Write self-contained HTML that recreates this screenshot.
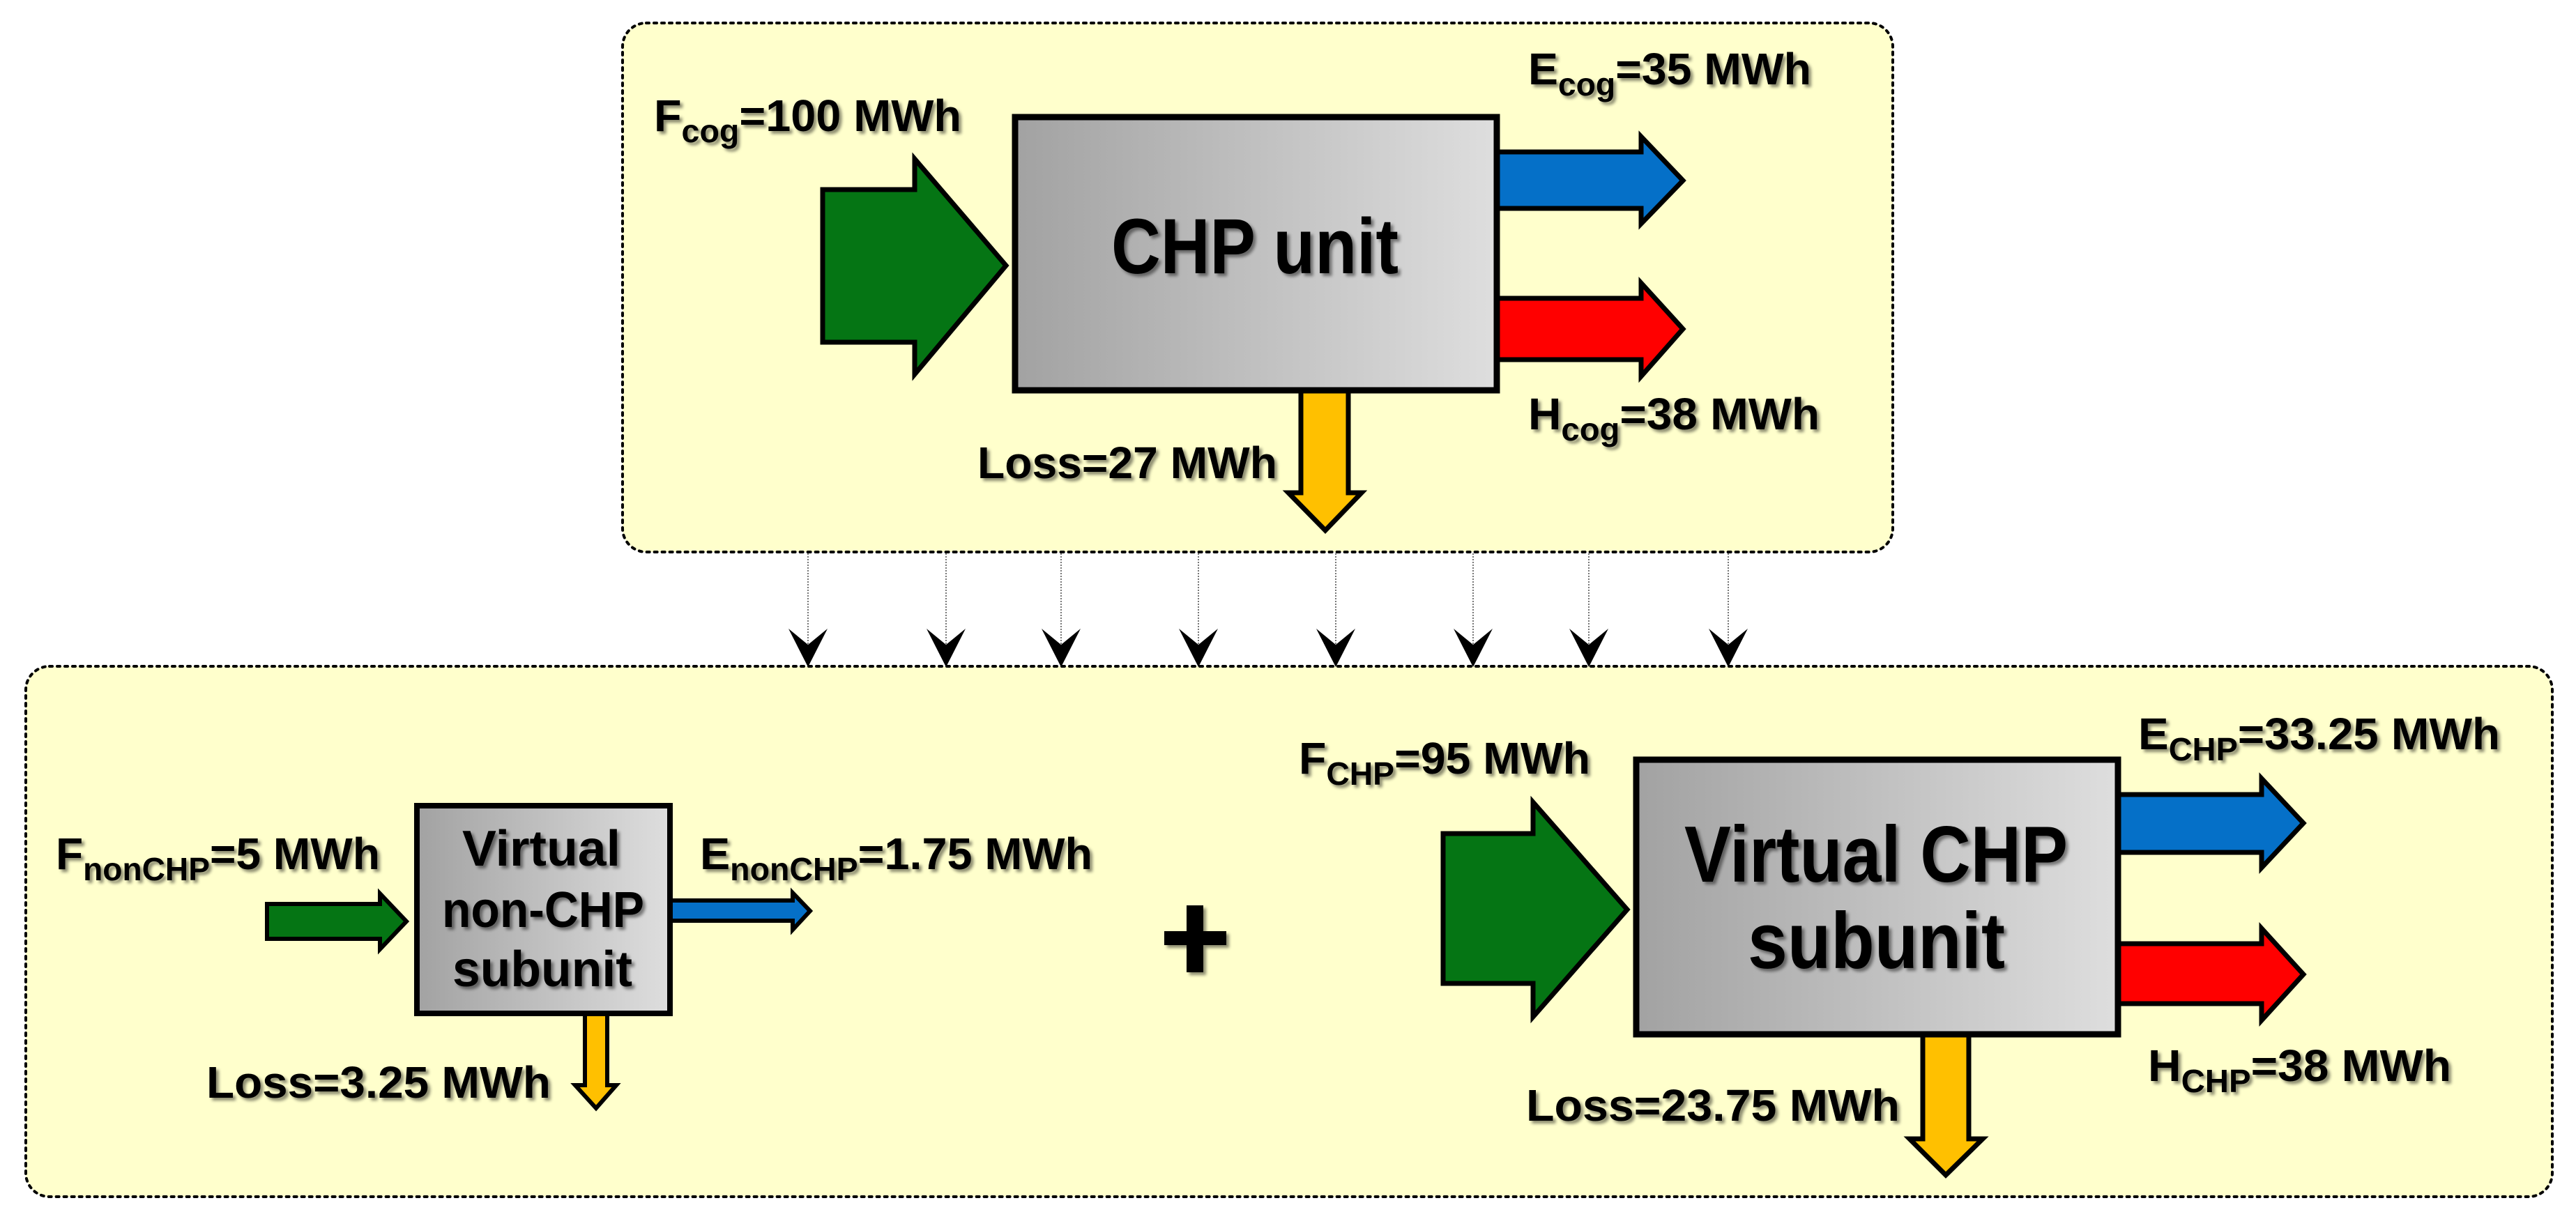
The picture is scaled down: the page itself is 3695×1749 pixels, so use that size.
<!DOCTYPE html>
<html><head><meta charset="utf-8"><style>
html,body{margin:0;padding:0;background:#fff;}
svg{display:block;}
text{font-family:"Liberation Sans",sans-serif;font-weight:bold;fill:#000;}
</style></head><body>
<svg width="3695" height="1749" viewBox="0 0 3695 1749" xmlns="http://www.w3.org/2000/svg">
<defs>
<linearGradient id="g" x1="0" x2="1" y1="0" y2="0"><stop offset="0" stop-color="#a2a2a2"/><stop offset="1" stop-color="#dedede"/></linearGradient>
<filter id="sh" x="-10%" y="-30%" width="120%" height="160%"><feDropShadow dx="4" dy="4" stdDeviation="2" flood-color="#000" flood-opacity="0.45"/></filter>
</defs>
<rect x="893" y="33" width="1822" height="759" rx="34" fill="#ffffcc" stroke="#000" stroke-width="4" stroke-dasharray="4 7" stroke-linecap="round"/>
<rect x="37" y="956" width="3624" height="761" rx="34" fill="#ffffcc" stroke="#000" stroke-width="4" stroke-dasharray="4 7" stroke-linecap="round"/>
<g stroke="#777" stroke-width="2" stroke-dasharray="2 2">
<line x1="1159" y1="794" x2="1159" y2="930"/><line x1="1357" y1="794" x2="1357" y2="930"/><line x1="1522" y1="794" x2="1522" y2="930"/><line x1="1719" y1="794" x2="1719" y2="930"/><line x1="1916" y1="794" x2="1916" y2="930"/><line x1="2113" y1="794" x2="2113" y2="930"/><line x1="2279" y1="794" x2="2279" y2="930"/><line x1="2479" y1="794" x2="2479" y2="930"/>
</g>
<g fill="#000">
<path d="M1131 902 L1159 925 L1187 902 L1159 957Z"/><path d="M1329 902 L1357 925 L1385 902 L1357 957Z"/><path d="M1494 902 L1522 925 L1550 902 L1522 957Z"/><path d="M1691 902 L1719 925 L1747 902 L1719 957Z"/><path d="M1888 902 L1916 925 L1944 902 L1916 957Z"/><path d="M2085 902 L2113 925 L2141 902 L2113 957Z"/><path d="M2251 902 L2279 925 L2307 902 L2279 957Z"/><path d="M2451 902 L2479 925 L2507 902 L2479 957Z"/>
</g>
<g stroke="#000" stroke-width="7" stroke-linejoin="miter">
<path d="M1180 272 L1312 272 L1312 228 L1443 381 L1312 537 L1312 491 L1180 491Z" fill="#057514"/>
<path d="M2148 218 L2354 218 L2354 196 L2414 259 L2354 321 L2354 299 L2148 299Z" fill="#0570c8"/>
<path d="M2148 428 L2354 428 L2354 406 L2414 472 L2354 540 L2354 516 L2148 516Z" fill="#ff0000"/>
<path d="M1866 560 L1866 707 L1848 707 L1901 761 L1953 707 L1934 707 L1934 560Z" fill="#ffc000"/>
<rect x="1456" y="168" width="691" height="392" fill="url(#g)" stroke-width="9"/>
</g>
<g filter="url(#sh)">
<text x="1594" y="392" font-size="112" textLength="412" lengthAdjust="spacingAndGlyphs">CHP unit</text>
<text x="938" y="188" font-size="64" textLength="441" lengthAdjust="spacingAndGlyphs">F<tspan font-size="46" dy="16">cog</tspan><tspan dy="-16">=100 MWh</tspan></text>
<text x="2192" y="121" font-size="64" textLength="406" lengthAdjust="spacingAndGlyphs">E<tspan font-size="46" dy="16">cog</tspan><tspan dy="-16">=35 MWh</tspan></text>
<text x="2192" y="616" font-size="64" textLength="418" lengthAdjust="spacingAndGlyphs">H<tspan font-size="46" dy="16">cog</tspan><tspan dy="-16">=38 MWh</tspan></text>
<text x="1402" y="686" font-size="64" textLength="430" lengthAdjust="spacingAndGlyphs">Loss=27 MWh</text>
</g>
<g stroke="#000" stroke-width="6">
<path d="M383 1297 L545 1297 L545 1282 L583 1322 L545 1362 L545 1347 L383 1347Z" fill="#057514"/>
<path d="M962 1292 L1137 1292 L1137 1281 L1162 1307 L1137 1334 L1137 1321 L962 1321Z" fill="#0570c8"/>
<path d="M839 1454 L839 1557 L825 1557 L855 1590 L884 1557 L871 1557 L871 1454Z" fill="#ffc000"/>
<rect x="598" y="1156" width="363" height="298" fill="url(#g)" stroke-width="8"/>
</g>
<g filter="url(#sh)">
<text x="663" y="1242" font-size="72" textLength="227" lengthAdjust="spacingAndGlyphs">Virtual</text>
<text x="634" y="1330" font-size="72" textLength="290" lengthAdjust="spacingAndGlyphs">non-CHP</text>
<text x="649" y="1415" font-size="72" textLength="258" lengthAdjust="spacingAndGlyphs">subunit</text>
<text x="80" y="1247" font-size="64" textLength="465" lengthAdjust="spacingAndGlyphs">F<tspan font-size="46" dy="16">nonCHP</tspan><tspan dy="-16">=5 MWh</tspan></text>
<text x="1004" y="1247" font-size="64" textLength="563" lengthAdjust="spacingAndGlyphs">E<tspan font-size="46" dy="16">nonCHP</tspan><tspan dy="-16">=1.75 MWh</tspan></text>
<text x="296" y="1575" font-size="64" textLength="494" lengthAdjust="spacingAndGlyphs">Loss=3.25 MWh</text>
<rect x="1702" y="1299" width="24" height="96" fill="#000"/>
<rect x="1670" y="1336" width="89" height="20" fill="#000"/>
</g>
<g stroke="#000" stroke-width="7">
<path d="M2070 1196 L2199 1196 L2199 1151 L2334 1305 L2199 1459 L2199 1411 L2070 1411Z" fill="#057514"/>
<path d="M3039 1140 L3244 1140 L3244 1117 L3304 1181 L3244 1245 L3244 1223 L3039 1223Z" fill="#0570c8"/>
<path d="M3039 1354 L3244 1354 L3244 1332 L3304 1398 L3244 1464 L3244 1440 L3039 1440Z" fill="#ff0000"/>
<path d="M2758 1485 L2758 1634 L2739 1634 L2791 1686 L2844 1634 L2824 1634 L2824 1485Z" fill="#ffc000"/>
<rect x="2347" y="1090" width="691" height="394" fill="url(#g)" stroke-width="9"/>
</g>
<g filter="url(#sh)">
<text x="2416" y="1265" font-size="114" textLength="550" lengthAdjust="spacingAndGlyphs">Virtual CHP</text>
<text x="2507" y="1389" font-size="114" textLength="369" lengthAdjust="spacingAndGlyphs">subunit</text>
<text x="1863" y="1110" font-size="64" textLength="418" lengthAdjust="spacingAndGlyphs">F<tspan font-size="46" dy="16">CHP</tspan><tspan dy="-16">=95 MWh</tspan></text>
<text x="3067" y="1075" font-size="64" textLength="519" lengthAdjust="spacingAndGlyphs">E<tspan font-size="46" dy="16">CHP</tspan><tspan dy="-16">=33.25 MWh</tspan></text>
<text x="3081" y="1551" font-size="64" textLength="435" lengthAdjust="spacingAndGlyphs">H<tspan font-size="46" dy="16">CHP</tspan><tspan dy="-16">=38 MWh</tspan></text>
<text x="2189" y="1608" font-size="64" textLength="536" lengthAdjust="spacingAndGlyphs">Loss=23.75 MWh</text>
</g>
</svg>
</body></html>
